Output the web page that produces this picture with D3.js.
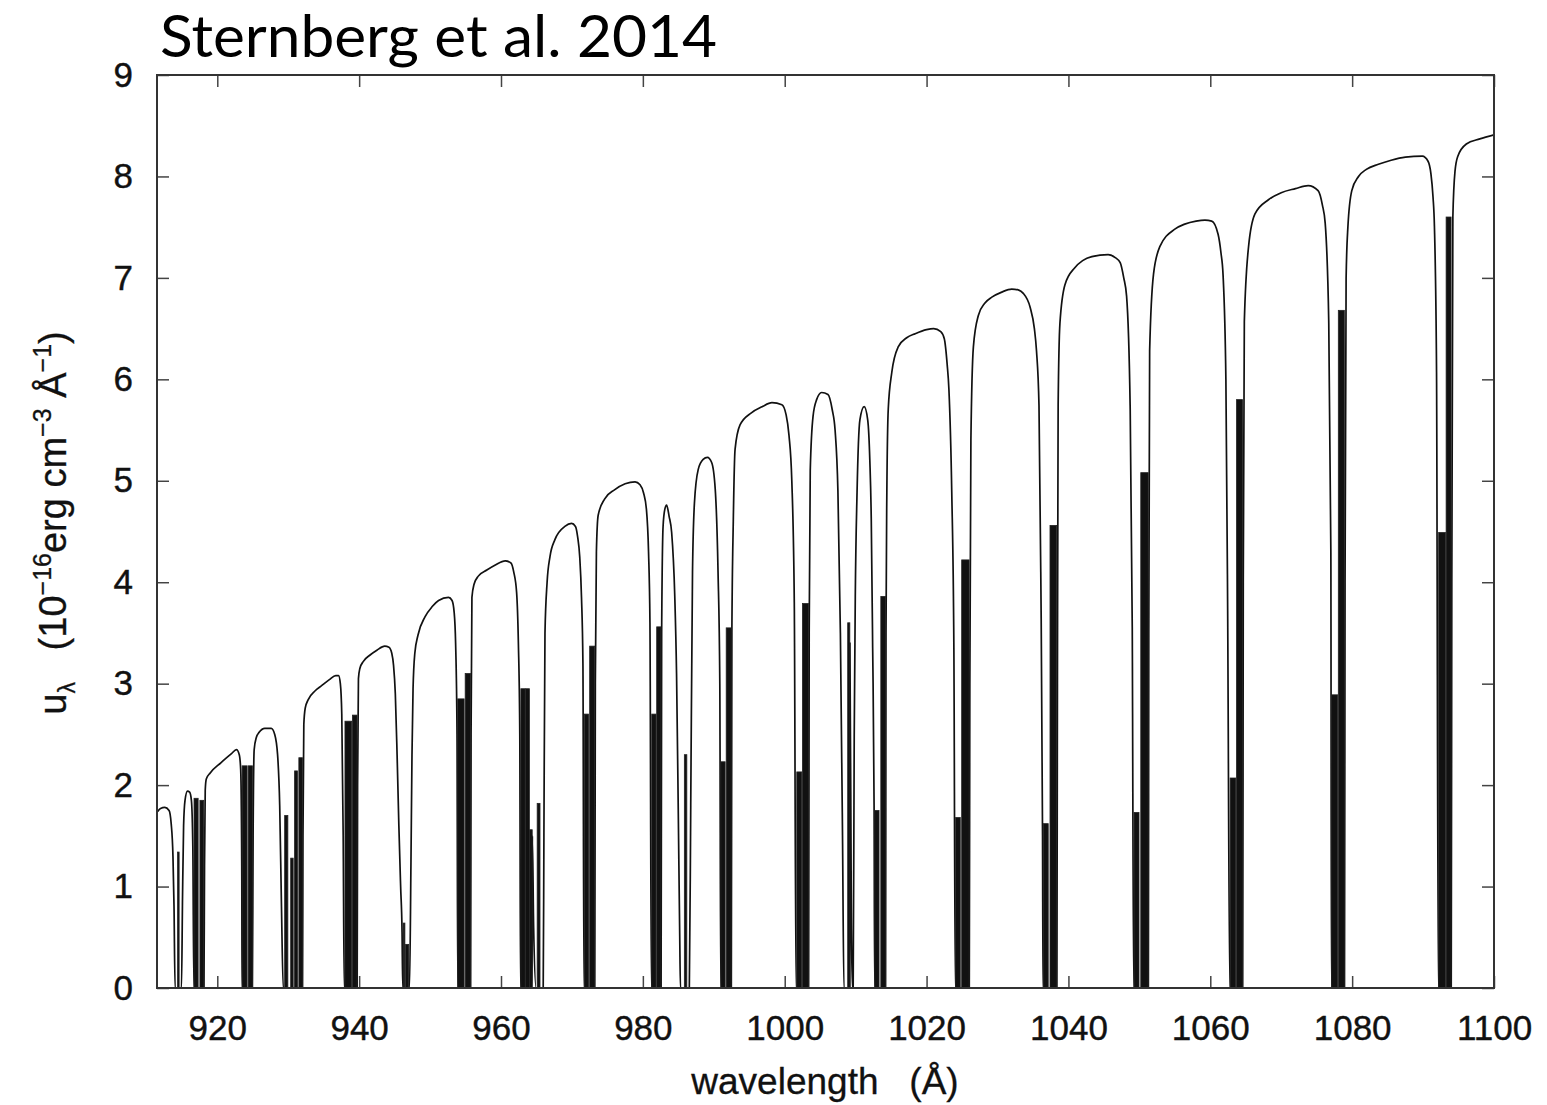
<!DOCTYPE html>
<html><head><meta charset="utf-8">
<script src="https://cdn.jsdelivr.net/npm/d3@7"></script>
<style>body{margin:0;background:#fff} svg{display:block}</style>
</head><body>
<svg id="chart" width="1547" height="1105"></svg>
<script>
const titleText = "Sternberg et al. 2014";
const xTicks = [920, 940, 960, 980, 1000, 1020, 1040, 1060, 1080, 1100];
const yTicks = [0, 1, 2, 3, 4, 5, 6, 7, 8, 9];

// continuum + damping wings of the H2 / H I absorption lines: [wavelength (Å), u]
const spectrum = [
[911.6,1.74],[912.0,1.77],[912.6,1.78],[913.2,1.75],[913.5,1.62],[913.75,1.3],[913.9,0.8],[914.05,0],
[914.95,0],[915.1,0.9],[915.25,1.6],[915.45,1.85],[915.8,1.94],[916.1,1.93],[916.35,1.85],[916.55,1.4],[916.7,0],
[918.12,0],[918.2,1.2],[918.3,1.95],[918.45,2.06],[919.0,2.12],[920.5,2.22],[922.0,2.31],[922.7,2.35],[923.1,2.3],[923.3,2.15],[923.45,1.2],[923.5,0],
[924.95,0],[925.05,1.5],[925.2,2.35],[925.5,2.47],[925.9,2.52],[926.7,2.56],[927.6,2.56],[928.1,2.5],[928.5,2.3],[928.8,1.8],[929.05,0.8],[929.3,0],
[932.02,0],[932.08,1.5],[932.2,2.6],[932.4,2.76],[932.8,2.84],[933.8,2.93],[934.7,2.98],[935.8,3.04],[936.7,3.08],[937.1,3.08],[937.35,3.0],[937.55,2.7],[937.75,1.5],[937.9,0],
[939.72,0],[939.78,2.0],[939.9,3.05],[940.1,3.15],[940.6,3.22],[941.5,3.28],[942.5,3.33],[943.6,3.37],[944.2,3.36],[944.6,3.3],[944.85,3.18],[945.1,2.9],[945.35,2.3],[945.6,1.6],[945.85,1.0],[946.05,0.55],[946.15,0],
[947.1,0],[947.3,1.2],[947.45,2.3],[947.6,2.95],[947.85,3.3],[948.3,3.48],[949.3,3.66],[950.3,3.76],[951.2,3.82],[952.6,3.85],[953.1,3.82],[953.4,3.7],[953.6,3.4],[953.8,2.5],[953.9,0],
[955.72,0],[955.78,2.5],[955.9,3.85],[956.2,3.98],[956.8,4.06],[958.0,4.12],[959.2,4.17],[960.6,4.21],[961.4,4.19],[961.8,4.1],[962.2,3.9],[962.45,3.4],[962.65,2.5],[962.75,0],
[964.38,0],[964.42,1.5],[964.6,0.6],[964.95,0],
[965.95,0],[966.05,1.5],[966.2,3.5],[966.5,4.0],[966.9,4.25],[967.6,4.42],[969.0,4.55],[969.95,4.58],[970.5,4.55],[970.8,4.45],[971.1,4.25],[971.35,3.85],[971.55,3.2],[971.7,0],
[973.22,0],[973.3,3.0],[973.45,4.3],[973.7,4.66],[974.6,4.82],[976.0,4.91],[977.5,4.97],[978.9,4.99],[979.6,4.96],[980.1,4.88],[980.5,4.72],[980.8,4.3],[981.0,3.6],[981.2,0],
[982.57,0],[982.65,3.5],[982.85,4.55],[983.1,4.72],[983.35,4.76],[983.7,4.65],[984.06,4.49],[984.5,3.86],[984.75,3.1],[985.0,1.7],[985.2,0.5],[985.3,0],
[986.55,0],[986.75,1.8],[987.0,4.1],[987.27,4.78],[987.8,5.11],[988.5,5.21],[989.1,5.23],[989.7,5.18],[990.2,4.92],[990.6,4.1],[990.85,3.0],[990.98,0],
[992.47,0],[992.55,3.5],[992.75,4.6],[993.0,5.31],[993.7,5.55],[995.3,5.67],[996.8,5.73],[998.2,5.77],[999.6,5.75],[1000.2,5.65],[1000.6,5.45],[1001.0,5.0],[1001.35,3.8],[1001.6,0],
[1003.37,0],[1003.45,3.5],[1003.6,5.1],[1004.0,5.64],[1004.5,5.8],[1005.2,5.87],[1006.1,5.85],[1006.7,5.7],[1007.1,5.5],[1007.5,4.9],[1007.85,3.5],[1008.15,1.5],[1008.35,0],
[1009.18,0],[1009.19,3.4],[1009.4,0.6],[1009.55,0],
[1009.65,0],[1009.8,2.5],[1009.95,3.86],[1010.2,4.89],[1010.6,5.6],[1011.2,5.73],[1011.7,5.6],[1012.0,5.2],[1012.2,4.63],[1012.4,3.35],[1012.6,1.8],[1012.68,0],
[1014.22,0],[1014.28,3.5],[1014.4,4.89],[1014.6,5.71],[1015.1,6.07],[1016.0,6.32],[1017.2,6.41],[1018.4,6.45],[1020.0,6.49],[1021.0,6.5],[1022.0,6.47],[1022.5,6.4],[1022.9,6.15],[1023.15,5.9],[1023.55,4.89],[1023.85,3.35],[1024.05,0],
[1026.02,0],[1026.1,3.0],[1026.25,5.4],[1026.6,6.32],[1027.3,6.63],[1028.2,6.75],[1029.2,6.81],[1030.6,6.86],[1032.0,6.89],[1033.0,6.88],[1033.6,6.85],[1034.6,6.71],[1035.2,6.5],[1035.5,6.28],[1035.85,5.74],[1036.1,4.1],[1036.35,1.5],[1036.42,0],
[1038.37,0],[1038.45,3.0],[1038.55,5.74],[1038.8,6.55],[1039.5,6.93],[1040.9,7.1],[1042.0,7.17],[1043.3,7.21],[1045.6,7.23],[1046.6,7.2],[1047.3,7.15],[1047.8,7.0],[1048.2,6.82],[1048.7,5.74],[1049.0,3.55],[1049.2,0],
[1051.27,0],[1051.33,3.5],[1051.45,6.28],[1052.0,7.04],[1052.9,7.31],[1055.0,7.48],[1056.4,7.53],[1058.0,7.56],[1059.25,7.57],[1060.2,7.56],[1061.1,7.43],[1061.5,7.25],[1061.8,7.03],[1062.2,6.0],[1062.45,3.72],[1062.75,0],
[1064.57,0],[1064.65,4.0],[1064.8,6.57],[1065.4,7.31],[1066.3,7.63],[1068.2,7.77],[1070.0,7.84],[1072.0,7.88],[1073.8,7.91],[1075.2,7.86],[1075.8,7.72],[1076.2,7.54],[1076.7,6.57],[1077.0,4.29],[1077.08,0],
[1078.92,0],[1079.0,4.0],[1079.15,7.0],[1079.4,7.5],[1079.95,7.86],[1080.9,8.0],[1082.0,8.07],[1083.7,8.12],[1085.5,8.16],[1087.5,8.19],[1089.9,8.2],[1090.7,8.15],[1091.1,8.03],[1091.4,7.8],[1091.6,7.51],[1091.9,6.07],[1092.15,0],
[1093.97,0],[1094.05,4.0],[1094.2,7.6],[1094.5,8.05],[1094.9,8.2],[1096.1,8.32],[1098.0,8.37],[1100.0,8.41]
];

// unresolved line-core structure inside the dips: [from Å, to Å, peak u]
const cores = [
[914.40,914.62,1.34],
[916.72,917.30,1.87],[917.55,918.10,1.85],
[923.50,924.20,2.19],[924.35,924.95,2.19],
[929.50,929.95,1.70],[930.35,930.70,1.28],[930.90,931.30,2.14],[931.50,932.00,2.27],
[938.00,938.95,2.63],[939.05,939.70,2.69],
[946.20,946.45,0.64],[946.55,947.00,0.43],
[953.90,954.80,2.85],[954.95,955.70,3.10],
[962.80,963.40,2.95],[963.45,964.00,2.95],[964.05,964.40,1.56],[965.10,965.50,1.82],
[971.75,972.35,2.70],[972.50,973.20,3.37],
[981.25,981.85,2.70],[981.95,982.55,3.56],
[985.85,986.20,2.30],
[991.00,991.60,2.23],[991.75,992.45,3.55],
[1001.70,1002.40,2.13],[1002.50,1003.35,3.79],
[1008.88,1009.18,3.60],
[1012.70,1013.30,1.75],[1013.55,1014.20,3.86],
[1024.10,1024.75,1.68],[1024.95,1026.00,4.22],
[1036.45,1037.15,1.62],[1037.40,1038.35,4.56],
[1049.25,1049.95,1.73],[1050.20,1051.25,5.08],
[1062.80,1063.60,2.07],[1063.70,1064.55,5.80],
[1077.10,1077.95,2.89],[1078.05,1078.90,6.68],
[1092.20,1093.15,4.49],[1093.25,1093.95,7.60]
];

const svg = d3.select("#chart");
const L = 157, R = 1494, T = 75, B = 988;
const x = d3.scaleLinear().domain([911.5, 1100]).range([L, R]);
const y = d3.scaleLinear().domain([0, 9]).range([B, T]);

svg.append("defs").append("clipPath").attr("id","clip")
  .append("rect").attr("x",L).attr("y",T).attr("width",R-L).attr("height",B-T);

const plot = svg.append("g").attr("clip-path","url(#clip)");

plot.append("path")
  .datum(spectrum)
  .attr("fill","none")
  .attr("stroke","#111")
  .attr("stroke-width",1.7)
  .attr("stroke-linejoin","round")
  .attr("d", d3.line().x(d=>x(d[0])).y(d=>y(d[1])).curve(d3.curveMonotoneX));

plot.selectAll("rect.core").data(cores).join("rect")
  .attr("class","core")
  .attr("x", d=>x(d[0]))
  .attr("width", d=>Math.max(1, x(d[1])-x(d[0])))
  .attr("y", d=>y(d[2]))
  .attr("height", d=>y(0)-y(d[2]))
  .attr("fill","#111")
  .attr("stroke","#222").attr("stroke-width",0.8);

const font = "'Liberation Sans', Arial, Helvetica, sans-serif";
const fs = 35;
const tfs = 37;
const tickLen = 12;

function styleAxis(g){
  g.selectAll(".domain").remove();
  g.selectAll(".tick line").attr("stroke","#444").attr("stroke-width",1.5);
  g.selectAll(".tick text").attr("fill","#111").attr("stroke","#111").attr("stroke-width",0.4)
    .style("font-family",font).style("font-size",fs+"px");
}

svg.append("g").attr("transform",`translate(0,${B})`)
  .call(d3.axisBottom(x).tickValues(xTicks).tickSizeInner(-tickLen).tickSizeOuter(0).tickPadding(27).tickFormat(d3.format("d")))
  .call(styleAxis);
svg.append("g").attr("transform",`translate(0,${T})`)
  .call(d3.axisTop(x).tickValues(xTicks).tickSizeInner(-tickLen).tickSizeOuter(0).tickFormat(""))
  .call(styleAxis);
svg.append("g").attr("transform",`translate(${L},0)`)
  .call(d3.axisLeft(y).tickValues(yTicks).tickSizeInner(-tickLen).tickSizeOuter(0).tickPadding(24).tickFormat(d3.format("d")))
  .call(styleAxis);
svg.append("g").attr("transform",`translate(${R},0)`)
  .call(d3.axisRight(y).tickValues(yTicks).tickSizeInner(-tickLen).tickSizeOuter(0).tickFormat(""))
  .call(styleAxis);

svg.append("rect").attr("x",L).attr("y",T).attr("width",R-L).attr("height",B-T)
  .attr("fill","none").attr("stroke","#333").attr("stroke-width",2);

// x axis title
svg.append("text").attr("x", 825).attr("y", 1094).attr("text-anchor","middle")
  .style("font-family",font).style("font-size",tfs+"px").attr("fill","#111")
  .attr("stroke","#111").attr("stroke-width",0.3)
  .attr("xml:space","preserve")
  .text("wavelength   (Å)");

// y axis title
const yt = svg.append("text")
  .attr("transform","translate(66,523) rotate(-90)")
  .attr("text-anchor","middle")
  .style("font-family",font).style("font-size",(tfs+1)+"px").attr("fill","#111")
  .attr("stroke","#111").attr("stroke-width",0.3)
  .attr("xml:space","preserve");
yt.append("tspan").text("u");
yt.append("tspan").attr("dy",9).style("font-size","23px").text("λ");
yt.append("tspan").attr("dy",-9).text("   (10");
yt.append("tspan").attr("dy",-15).style("font-size","25px").text("−16");
yt.append("tspan").attr("dy",15).text("erg cm");
yt.append("tspan").attr("dy",-15).style("font-size","25px").text("−3");
yt.append("tspan").attr("dy",15).text(" Å");
yt.append("tspan").attr("dy",-15).style("font-size","25px").text("−1");
yt.append("tspan").attr("dy",15).text(")");

// title
svg.append("text").attr("x",160).attr("y",57)
  .style("font-family","Lato, 'Noto Sans', sans-serif").style("font-size","59px")
  .attr("textLength",557).attr("lengthAdjust","spacingAndGlyphs")
  .attr("fill","#000").text(titleText);
</script>
</body></html>
